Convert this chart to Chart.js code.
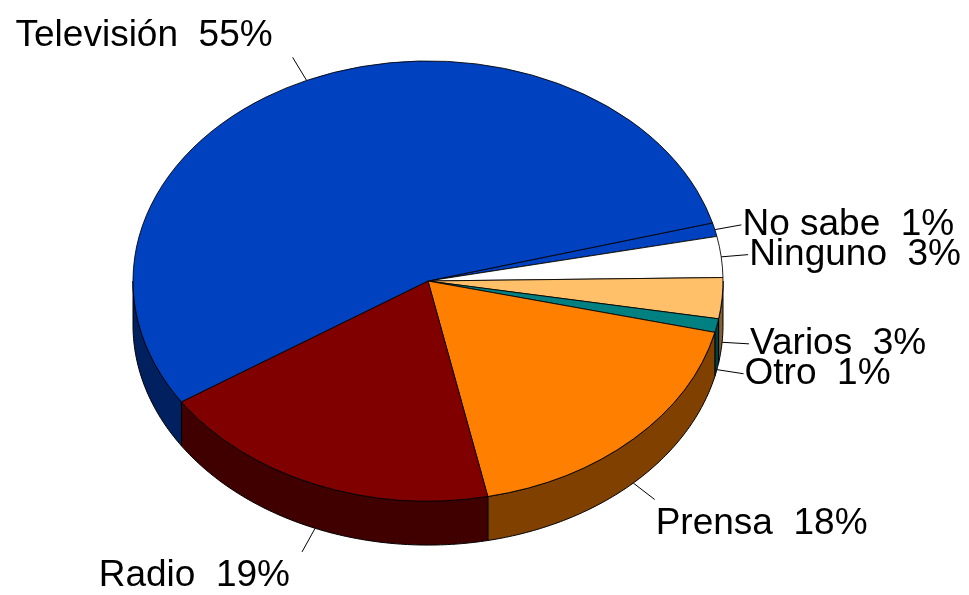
<!DOCTYPE html>
<html><head><meta charset="utf-8">
<script src="https://cdn.jsdelivr.net/npm/chart.js@4/dist/chart.umd.min.js"></script>
<style>html,body{margin:0;padding:0;background:#fff;}#wrap{width:969px;height:595px;}</style>
</head><body><div id="wrap"><canvas id="c" width="969" height="595"></canvas></div>
<script>
const categories = ['No sabe', 'Ninguno', 'Varios', 'Otro', 'Prensa', 'Radio', 'Televisión'];
const percentages = [1, 3, 3, 1, 18, 19, 55];
const topColors = ['#0041C0', '#FFFFFF', '#FFC069', '#008080', '#FF8000', '#800000', '#0041C0'];
const sideColors = ['#00205F', '#7F7F7F', '#806035', '#004040', '#804000', '#400000', '#00205F'];

const TILT = 0.746;
const DEPTH = 44;
const FONT = '37px "Liberation Sans", Arial, sans-serif';

function sidePath(ctx, x, y, r, lo, hi) {
  const steps = Math.max(2, Math.ceil((hi - lo) * 80));
  ctx.beginPath();
  for (let s = 0; s <= steps; s++) {
    const t = lo + (hi - lo) * s / steps;
    const px = x + r * Math.cos(t), py = y + TILT * r * Math.sin(t);
    if (s === 0) ctx.moveTo(px, py); else ctx.lineTo(px, py);
  }
  for (let s = steps; s >= 0; s--) {
    const t = lo + (hi - lo) * s / steps;
    ctx.lineTo(x + r * Math.cos(t), y + TILT * r * Math.sin(t) + DEPTH);
  }
  ctx.closePath();
}

const pie3d = {
  id: 'pie3d',
  beforeDatasetsDraw(chart) {
    const ctx = chart.ctx;
    const arcs = chart.getDatasetMeta(0).data;
    ctx.save();
    ctx.lineWidth = 1;
    ctx.strokeStyle = '#000';
    arcs.forEach((arc, i) => {
      const { x, y, startAngle, endAngle, outerRadius } = arc;
      for (let n = -2; n <= 2; n++) {
        const lo = Math.max(startAngle, n * 2 * Math.PI);
        const hi = Math.min(endAngle, n * 2 * Math.PI + Math.PI);
        if (hi <= lo) continue;
        sidePath(ctx, x, y, outerRadius, lo, hi);
        ctx.fillStyle = sideColors[i];
        ctx.fill();
        ctx.stroke();
      }
    });
    ctx.restore();
    const c = arcs[0];
    ctx.save();
    ctx.translate(c.x, c.y);
    ctx.scale(1, TILT);
    ctx.translate(-c.x, -c.y);
  },
  afterDatasetsDraw(chart) {
    const ctx = chart.ctx;
    ctx.restore();
    const arcs = chart.getDatasetMeta(0).data;
    const total = percentages.reduce((a, b) => a + b, 0);
    ctx.save();
    ctx.font = FONT;
    ctx.fillStyle = '#000';
    ctx.strokeStyle = '#000';
    ctx.lineWidth = 1;
    arcs.forEach((arc, i) => {
      const { x, y, startAngle, endAngle, outerRadius: r } = arc;
      const mid = (startAngle + endAngle) / 2;
      const cs = Math.cos(mid), sn = Math.sin(mid);
      const dx = r * cs, dy = TILT * r * sn;
      const len = Math.hypot(dx, dy);
      const ux = dx / len, uy = dy / len;
      const ex = x + dx, ey = y + dy + (sn > 0 ? DEPTH : 0);
      const tx = ex + 27 * ux, ty = ey + 27 * uy;
      ctx.beginPath();
      ctx.moveTo(ex, ey);
      ctx.lineTo(tx, ty);
      ctx.stroke();
      const label = categories[i] + '  ' + Math.round(percentages[i] / total * 100) + '%';
      ctx.textBaseline = 'alphabetic';
      let lx, by;
      if (cs >= 0) { ctx.textAlign = 'left'; lx = tx + 1; }
      else { ctx.textAlign = 'right'; lx = tx - (sn > 0 ? 12 : 20); }
      if (Math.abs(sn) < 0.5) by = ty + 10;
      else if (sn > 0) by = ty + 34;
      else by = ty - 11;
      ctx.fillText(label, lx, by);
    });
    ctx.restore();
  }
};

new Chart(document.getElementById('c'), {
  type: 'pie',
  data: {
    labels: categories,
    datasets: [{
      data: percentages,
      backgroundColor: topColors,
      borderColor: '#000',
      borderWidth: 1,
      radius: 295,
      clip: false
    }]
  },
  options: {
    responsive: false,
    animation: false,
    rotation: 74.7,
    radius: 295,
    layout: { padding: { left: 0, right: 113, top: 0, bottom: 33 } },
    plugins: { legend: { display: false }, tooltip: { enabled: false } },
    events: []
  },
  plugins: [pie3d]
});
</script>
</body></html>
